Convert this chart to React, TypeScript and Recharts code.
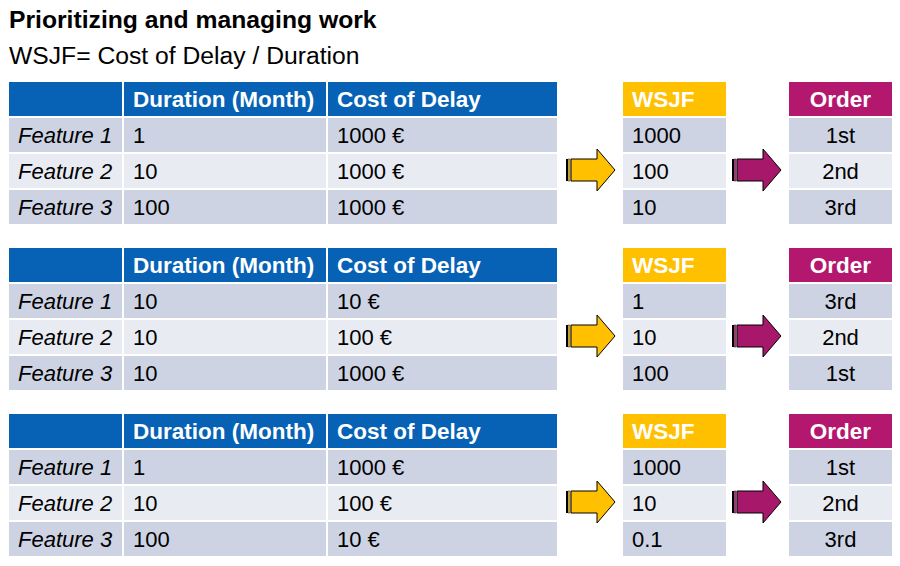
import { ComposedChart, Customized } from 'recharts'

const features = ['Feature 1', 'Feature 2', 'Feature 3']
const headers = ['', 'Duration (Month)', 'Cost of Delay']

const durations = [
  ['1', '10', '100'],
  ['10', '10', '10'],
  ['1', '10', '100'],
]
const costs = [
  ['1000 €', '1000 €', '1000 €'],
  ['10 €', '100 €', '1000 €'],
  ['1000 €', '100 €', '10 €'],
]
const wsjf = [
  ['1000', '100', '10'],
  ['1', '10', '100'],
  ['1000', '10', '0.1'],
]
const order = [
  ['1st', '2nd', '3rd'],
  ['3rd', '2nd', '1st'],
  ['1st', '2nd', '3rd'],
]

const FONT = '"Liberation Sans", Arial, sans-serif'
const BLUE = '#0762B5'
const YELLOW = '#FFC000'
const MAGENTA = '#B4186E'
const ROW_A = '#CDD3E3'
const ROW_B = '#E8EBF2'

const cols = [
  { x: 9, w: 113 },
  { x: 124, w: 202 },
  { x: 328, w: 229 },
]
const wsjfCol = { x: 623, w: 103 }
const orderCol = { x: 789, w: 103 }

function Arrow({ x, cy, fill }: { x: number; cy: number; fill: string }) {
  const w = 49
  const headX = x + 31
  const d = `M${x + 5},${cy - 11} L${headX},${cy - 11} L${headX},${cy - 21} L${x + w},${cy} L${headX},${cy + 21} L${headX},${cy + 11} L${x + 5},${cy + 11} Z`
  return (
    <g>
      <rect x={x} y={cy - 11} width={2} height={22} fill="#000" />
      <rect x={x + 2} y={cy - 11} width={2} height={22} fill={fill} stroke="#000" strokeWidth={0.6} opacity={0.8} />
      <path d={d} fill={fill} stroke="#000" strokeWidth={1} />
    </g>
  )
}

function TableBlock({ k }: { k: number }) {
  const top = 82 + k * 166
  const rowY = (i: number) => top + 36 + i * 36
  return (
    <g fontFamily={FONT} fontSize={22}>
      {cols.map((c, j) => (
        <g key={`h${j}`}>
          <rect x={c.x} y={top} width={c.w} height={34} fill={BLUE} />
          <text x={c.x + 9} y={top + 25} fill="#fff" fontWeight="bold" fontSize={22.5}>
            {headers[j]}
          </text>
        </g>
      ))}
      <rect x={wsjfCol.x} y={top} width={wsjfCol.w} height={34} fill={YELLOW} />
      <text x={wsjfCol.x + 9} y={top + 25} fill="#fff" fontWeight="bold" fontSize={22.5}>WSJF</text>
      <rect x={orderCol.x} y={top} width={orderCol.w} height={34} fill={MAGENTA} />
      <text x={orderCol.x + orderCol.w / 2} y={top + 25} fill="#fff" fontWeight="bold" fontSize={22.5} textAnchor="middle">
        Order
      </text>

      {features.map((f, i) => {
        const y = rowY(i)
        const bg = i === 1 ? ROW_B : ROW_A
        const vals = [f, durations[k][i], costs[k][i]]
        return (
          <g key={`r${i}`}>
            {cols.map((c, j) => (
              <g key={j}>
                <rect x={c.x} y={y} width={c.w} height={34} fill={bg} />
                <text x={c.x + 9} y={y + 25} fill="#000" fontStyle={j === 0 ? 'italic' : 'normal'}>
                  {vals[j]}
                </text>
              </g>
            ))}
            <rect x={wsjfCol.x} y={y} width={wsjfCol.w} height={34} fill={bg} />
            <text x={wsjfCol.x + 9} y={y + 25} fill="#000">{wsjf[k][i]}</text>
            <rect x={orderCol.x} y={y} width={orderCol.w} height={34} fill={bg} />
            <text x={orderCol.x + orderCol.w / 2} y={y + 25} fill="#000" textAnchor="middle">
              {order[k][i]}
            </text>
          </g>
        )
      })}

      <Arrow x={566} cy={rowY(1) + 16} fill={YELLOW} />
      <Arrow x={732} cy={rowY(1) + 16} fill="#A8186A" />
    </g>
  )
}

function Layer() {
  return (
    <g>
      <rect x={0} y={0} width={900} height={566} fill="#fff" />
      <text x={9} y={28} fontFamily={FONT} fontSize={24.7} fontWeight="bold" fill="#000">
        Prioritizing and managing work
      </text>
      <text x={9} y={64} fontFamily={FONT} fontSize={24.7} fill="#000">
        WSJF= Cost of Delay / Duration
      </text>
      {[0, 1, 2].map((k) => (
        <TableBlock key={k} k={k} />
      ))}
    </g>
  )
}

export default function App() {
  return (
    <div style={{ position: 'absolute', left: 0, top: 0, background: '#fff' }}>
      <ComposedChart width={900} height={566} data={features.map((name) => ({ name }))} margin={{ top: 0, right: 0, bottom: 0, left: 0 }}>
        <Customized component={<Layer />} />
      </ComposedChart>
    </div>
  )
}
